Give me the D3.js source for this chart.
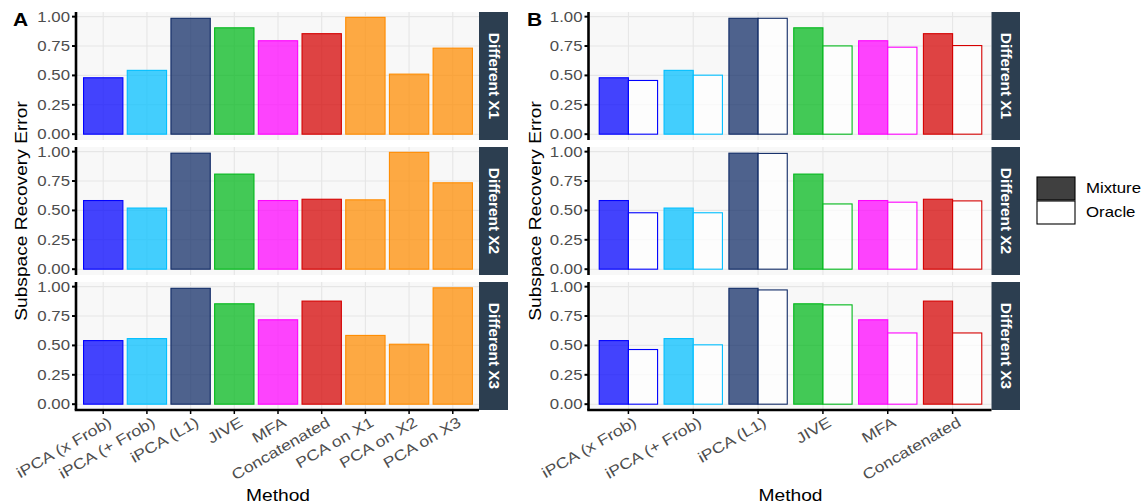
<!DOCTYPE html>
<html><head><meta charset="utf-8">
<script src="https://cdn.jsdelivr.net/npm/d3@7"></script>
<style>body{margin:0;background:#fff;} svg{display:block;font-family:"Liberation Sans",Arial,Helvetica,sans-serif;}</style>
</head><body><svg id="c" width="1142" height="504"></svg>
<script>
// ---------------- data ----------------
const methods = ["iPCA (x Frob)","iPCA (+ Frob)","iPCA (L1)","JIVE","MFA","Concatenated","PCA on X1","PCA on X2","PCA on X3"];
const methodsB = ["iPCA (x Frob)","iPCA (+ Frob)","iPCA (L1)","JIVE","MFA","Concatenated"];
const scenarios = ["Different X1","Different X2","Different X3"];
const mixtureX1 = [0.480,0.543,0.986,0.905,0.795,0.855,0.994,0.511,0.732];
const mixtureX2 = [0.584,0.520,0.987,0.809,0.584,0.595,0.590,0.994,0.735];
const mixtureX3 = [0.541,0.558,0.986,0.854,0.718,0.877,0.585,0.510,0.990];
const oracleX1 = [0.457,0.502,0.986,0.751,0.740,0.754];
const oracleX2 = [0.480,0.480,0.985,0.555,0.570,0.581];
const oracleX3 = [0.465,0.505,0.972,0.845,0.606,0.606];
const methodColors = ["#0000FF","#00BFFF","#0F2A66","#00B81A","#FF00FF","#D50000","#FF8C00","#FF8C00","#FF8C00"];
const fillTypes = ["Mixture","Oracle"];
const yTickValues = [0,0.25,0.5,0.75,1];
const yTickLabels = ["0.00","0.25","0.50","0.75","1.00"];
const panelLabels = ["A","B"];
const yTitle = "Subspace Recovery Error";
const xTitle = "Method";

const mixture = [mixtureX1, mixtureX2, mixtureX3];
const oracle = [oracleX1, oracleX2, oracleX3];
const colorOf = d3.scaleOrdinal().domain(methods).range(methodColors);

// ---------------- layout ----------------
const svg = d3.select("#c");
const FS = 1.2;           // horizontal glyph widening
const rowTop = i => 12 + i*135, rowH = 128;
const tickCol = "#4d4d4d";
const panels = [
  {label:panelLabels[0], x0:77,  x1:479,   s1:508,  meths:methods,  dodge:false, lx:13,  ytx:21},
  {label:panelLabels[1], x0:589.5, x1:991.5, s1:1020, meths:methodsB, dodge:true,  lx:527, ytx:535}
];

function txt(g, x, y, s, rot, opts) {
  const t = g.append("text")
    .attr("transform", `translate(${x},${y}) rotate(${rot||0}) scale(${(opts&&opts.fs)||FS},1)`)
    .text(s);
  return t;
}

panels.forEach(p => {
  const xs = d3.scaleBand().domain(p.meths).range([p.x0, p.x1]).paddingInner(0.1).paddingOuter(0.15);
  const sub = d3.scaleBand().domain(fillTypes).range([0, xs.bandwidth()]);
  scenarios.forEach((sc, r) => {
    const top = rowTop(r), bot = top + rowH;
    const ys = d3.scaleLinear().domain([-0.0495, 1.0395]).range([bot, top]);
    const g = svg.append("g");
    g.append("rect").attr("x", p.x0).attr("y", top).attr("width", p.x1 - p.x0).attr("height", rowH).attr("fill", "#f8f8f8");
    g.selectAll("line.hg").data(yTickValues).enter().append("line")
      .attr("x1", p.x0).attr("x2", p.x1).attr("y1", d => ys(d)).attr("y2", d => ys(d))
      .attr("stroke", "#e6e6e6").attr("stroke-width", 1.1);
    g.selectAll("line.vg").data(p.meths).enter().append("line")
      .attr("x1", d => xs(d) + xs.bandwidth()/2).attr("x2", d => xs(d) + xs.bandwidth()/2)
      .attr("y1", top).attr("y2", bot).attr("stroke", "#e6e6e6").attr("stroke-width", 1.1);
    // bars
    const mix = p.meths.map((m, i) => ({m, v: mixture[r][i], t: "Mixture"}));
    const ora = p.dodge ? p.meths.map((m, i) => ({m, v: oracle[r][i], t: "Oracle"})) : [];
    const all = mix.concat(ora);
    g.selectAll("rect.bar").data(all).enter().append("rect")
      .attr("x", d => p.dodge ? xs(d.m) + sub(d.t) : xs(d.m))
      .attr("width", p.dodge ? sub.bandwidth() : xs.bandwidth())
      .attr("y", d => ys(d.v)).attr("height", d => ys(0) - ys(d.v))
      .attr("fill", d => d.t === "Mixture" ? colorOf(d.m) : "#ffffff")
      .attr("fill-opacity", 0.73)
      .attr("stroke", d => colorOf(d.m)).attr("stroke-width", 1.1);
    // left axis
    g.append("line").attr("x1", p.x0 - 1).attr("x2", p.x0 - 1).attr("y1", top).attr("y2", bot)
      .attr("stroke", "#000").attr("stroke-width", 2.6);
    g.selectAll("line.yt").data(yTickValues).enter().append("line")
      .attr("x1", p.x0 - 5).attr("x2", p.x0 - 1).attr("y1", d => ys(d)).attr("y2", d => ys(d))
      .attr("stroke", "#000").attr("stroke-width", 2);
    yTickValues.forEach((v, i) => {
      txt(g, p.x0 - 7, ys(v), yTickLabels[i], 0)
        .attr("text-anchor", "end").attr("dy", "0.35em").attr("font-size", 14).attr("fill", tickCol);
    });
    // strip
    g.append("rect").attr("x", p.x1).attr("y", top).attr("width", p.s1 - p.x1).attr("height", rowH).attr("fill", "#2c3e50");
    txt(g, (p.x1 + p.s1)/2, top + rowH/2, sc, 90, {fs:1.1})
      .attr("text-anchor", "middle").attr("dy", "0.35em").attr("font-size", 14)
      .attr("font-weight", "bold").attr("fill", "#fff");
    if (r === scenarios.length - 1) {
      g.append("line").attr("x1", p.x0 - 2.3).attr("x2", p.x1).attr("y1", bot).attr("y2", bot)
        .attr("stroke", "#000").attr("stroke-width", 2.6);
      p.meths.forEach(m => {
        const cx = xs(m) + xs.bandwidth()/2;
        g.append("line").attr("x1", cx).attr("x2", cx).attr("y1", bot).attr("y2", bot + 4)
          .attr("stroke", "#000").attr("stroke-width", 1.5);
        txt(g, cx + 4, bot + 6, m, -30)
          .attr("text-anchor", "end").attr("dy", "0.72em").attr("font-size", 14.8).attr("fill", tickCol);
      });
    }
  });
  // titles
  txt(svg, p.ytx, (rowTop(0) + rowTop(2) + rowH)/2, yTitle, -90)
    .attr("text-anchor", "middle").attr("dy", "0.35em").attr("font-size", 16).attr("fill", "#000");
  txt(svg, (p.x0 + p.x1)/2, 501, xTitle, 0)
    .attr("text-anchor", "middle").attr("font-size", 16).attr("fill", "#000");
  txt(svg, p.lx, 26, p.label, 0)
    .attr("font-size", 17.5).attr("font-weight", "bold").attr("fill", "#000");
});

// legend
const lg = svg.append("g");
fillTypes.forEach((t, i) => {
  const y = 177 + i*24;
  lg.append("rect").attr("x", 1037).attr("y", y).attr("width", 38).attr("height", 23)
    .attr("fill", "#fff");
  lg.append("rect").attr("x", 1037).attr("y", y).attr("width", 38).attr("height", 23)
    .attr("fill", t === "Mixture" ? "#000" : "#fff").attr("fill-opacity", 0.75)
    .attr("stroke", "#000").attr("stroke-width", 1.1);
  txt(lg, 1086, y + 11.5, t, 0).attr("dy", "0.35em").attr("font-size", 14).attr("fill", "#000");
});
</script></body></html>
